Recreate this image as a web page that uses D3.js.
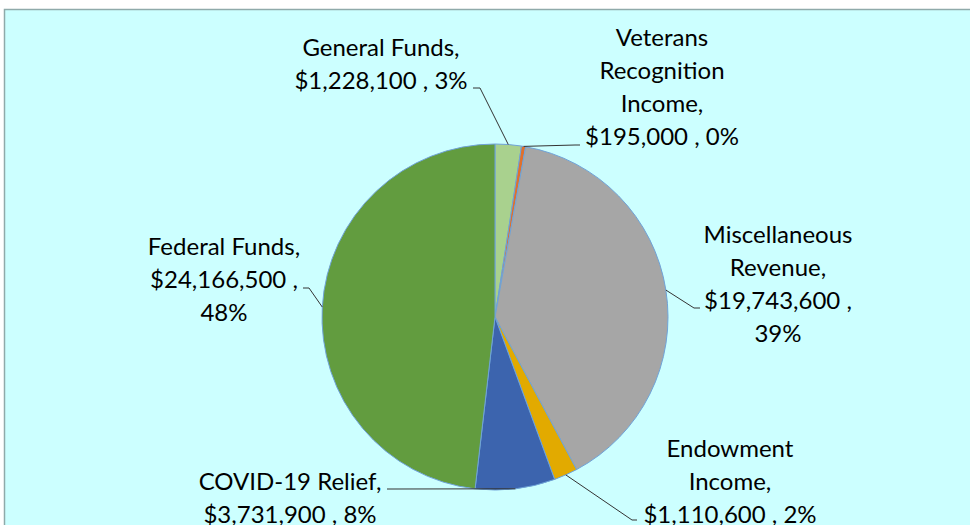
<!DOCTYPE html>
<html>
<head>
<meta charset="utf-8">
<script src="https://cdn.jsdelivr.net/npm/d3@7"></script>
<style>
  html, body { margin: 0; padding: 0; background: #fff; }
  svg { display: block; }
</style>
</head>
<body>
<svg id="chart"></svg>
<script>
// Data
const names  = ['General Funds', 'Veterans Recognition Income', 'Miscellaneous Revenue',
                'Endowment Income', 'COVID-19 Relief', 'Federal Funds'];
const values = [1228100, 195000, 19743600, 1110600, 3731900, 24166500];
const pctLabels = ['3%', '0%', '39%', '2%', '8%', '48%'];
const colors = ['#A9D18E', '#E0702C', '#A6A6A6', '#E2AA00', '#3C64AE', '#629C3F'];

// Label layout: words per line, text centre x, first baseline, leader start and elbow
const labelLayout = [
  { wrap: [2, 3],       cx: 381, y: 56,  from: [473, 88],  elbow: [480, 88] },
  { wrap: [1, 1, 1, 3], cx: 662, y: 46,  from: [580, 145], elbow: [575, 145] },
  { wrap: [1, 1, 2, 1], cx: 778, y: 243, from: [700, 308], elbow: [694, 308] },
  { wrap: [1, 1, 3],    cx: 730, y: 457, from: [637, 520], elbow: [632, 520] },
  { wrap: [2, 3],       cx: 290, y: 490, from: [387, 489], elbow: [393, 489] },
  { wrap: [2, 2, 1],    cx: 224, y: 255, from: [303, 288], elbow: [309, 288] }
];

const width = 970, height = 525;
const cx = 495, cy = 317, r = 173;
const lineH = 33;

const svg = d3.select('#chart').attr('width', width).attr('height', height);

// chart area background with border
svg.append('rect')
   .attr('x', 4.5).attr('y', 9.5)
   .attr('width', width + 10).attr('height', height + 10)
   .attr('fill', '#CCFFFF')
   .attr('stroke', '#8FAAAA')
   .attr('stroke-width', 1.5);

const fmt = d3.format('$,');
const rows = names.map((n, i) => ({ name: n, value: values[i], pct: pctLabels[i], color: colors[i], lay: labelLayout[i] }));

const pie = d3.pie().sort(null).value(d => d.value).startAngle(0).endAngle(2 * Math.PI);
const arcs = pie(rows);
const arc = d3.arc().innerRadius(0).outerRadius(r);
const edge = d3.arc().innerRadius(r).outerRadius(r);

const g = svg.append('g').attr('transform', `translate(${cx},${cy})`);

g.selectAll('path.slice')
  .data(arcs)
  .join('path')
  .attr('class', 'slice')
  .attr('d', arc)
  .attr('fill', d => d.data.color)
  .attr('stroke', '#6FA3D8')
  .attr('stroke-width', 1);

// leader lines
svg.selectAll('polyline.leader')
  .data(arcs)
  .join('polyline')
  .attr('class', 'leader')
  .attr('fill', 'none')
  .attr('stroke', '#333')
  .attr('stroke-width', 1)
  .attr('points', d => {
    const c = edge.centroid(d);
    const L = d.data.lay;
    return [L.from, L.elbow, [cx + c[0], cy + c[1]]].map(p => p.join(',')).join(' ');
  });

// labels
rows.forEach(d => {
  const words = `${d.name}, ${fmt(d.value)} , ${d.pct}`.split(' ');
  const lines = [];
  let k = 0;
  d.lay.wrap.forEach(n => { lines.push(words.slice(k, k + n).join(' ')); k += n; });
  const t = svg.append('text')
    .attr('text-anchor', 'middle')
    .attr('font-family', 'Lato, "Open Sans", sans-serif')
    .attr('font-size', 24)
    .attr('fill', '#000');
  lines.forEach((s, i) => {
    t.append('tspan').attr('x', d.lay.cx).attr('y', d.lay.y + i * lineH).text(s);
  });
});
</script>
</body>
</html>
